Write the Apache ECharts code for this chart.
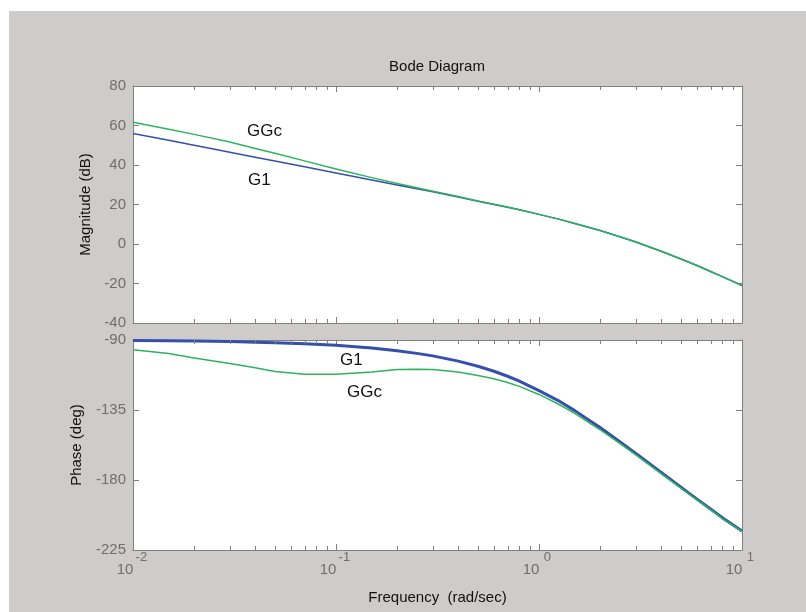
<!DOCTYPE html>
<html><head><meta charset="utf-8">
<script src="https://cdn.jsdelivr.net/npm/echarts@6/dist/echarts.min.js"></script>
<style>
html,body{margin:0;padding:0;background:#ffffff;}
#bg{position:absolute;left:9px;top:11px;width:797px;height:601px;background:#cdcccb;}
#chart{position:absolute;left:0;top:0;width:806px;height:612px;}
</style></head><body>
<div id="bg"></div><div id="chart"></div>
<script>
// ---- data ----
const frequency = [0.01, 0.015, 0.02, 0.03, 0.04, 0.05, 0.07, 0.1, 0.15, 0.2, 0.25, 0.3, 0.4, 0.5, 0.6, 0.7, 0.8, 1, 1.25, 1.5, 2, 2.5, 3, 4, 5, 6, 7, 8, 10];
const magG1  = [56.0, 52.5, 50.0, 46.4, 43.9, 42.0, 39.1, 36.0, 32.4, 29.9, 28.0, 26.4, 23.8, 21.7, 20.0, 18.6, 17.3, 15.0, 12.6, 10.4, 6.8, 3.7, 1.0, -3.7, -7.6, -10.9, -13.9, -16.5, -21.0];
const magGGc = [61.6, 58.1, 55.5, 51.6, 48.4, 46.0, 42.1, 38.0, 33.6, 30.6, 28.5, 26.7, 24.0, 21.8, 20.1, 18.7, 17.3, 15.0, 12.6, 10.4, 6.8, 3.7, 1.0, -3.7, -7.6, -10.9, -13.9, -16.5, -21.0];
const phaseG1  = [-90.3, -90.5, -90.7, -91.0, -91.4, -91.7, -92.4, -93.4, -95.1, -96.9, -98.6, -100.2, -103.6, -106.9, -110.1, -113.3, -116.4, -122.5, -129.1, -135.4, -146.3, -155.4, -163.0, -175.2, -184.6, -192.3, -198.6, -204.2, -212.8];
const phaseGGc = [-96.3, -98.7, -101.5, -105.1, -107.9, -110.3, -112.0, -112.0, -110.5, -109.0, -108.8, -108.9, -110.6, -112.8, -114.9, -117.3, -119.8, -125.0, -131.3, -137.2, -147.7, -156.5, -163.9, -175.9, -185.2, -192.8, -199.0, -204.8, -213.0];
const minorTickFreqs = [0.02,0.03,0.04,0.05,0.06,0.07,0.08,0.09, 0.2,0.3,0.4,0.5,0.6,0.7,0.8,0.9, 2,3,4,5,6,7,8,9];
const magRange = [-40, 80];
const phaseRange = [-225, -90];
const freqRange = [0.01, 10];

const FONT = '"Liberation Sans", Arial, sans-serif';
const axisGray = '#7f7f7f';
const labelGray = '#6e6e6e';
const blue = '#3550aa';
const green = '#2eb35c';

const pair = (xs, ys) => xs.map((x, i) => [x, ys[i]]);

function xAxis(gridIndex, position, showLabels) {
  return {
    type: 'log', logBase: 10, gridIndex, position, min: freqRange[0], max: freqRange[1],
    axisLine: { show: true, onZero: false, lineStyle: { color: axisGray, width: 1 } },
    axisTick: { show: true, inside: true, length: 6, lineStyle: { color: axisGray } },
    axisLabel: showLabels ? {
      margin: 1,
      formatter: v => '{b|10}{e|' + Math.round(Math.log10(v)) + '}',
      rich: {
        b: { fontSize: 15, fontFamily: FONT, color: labelGray, verticalAlign: 'bottom', lineHeight: 26 },
        e: { fontSize: 13, fontFamily: FONT, color: labelGray, width: 16, align: 'left', verticalAlign: 'top', lineHeight: 13 }
      }
    } : { show: false },
    splitLine: { show: false }, minorTick: { show: false }, minorSplitLine: { show: false }
  };
}
function yAxis(gridIndex, position, range, interval, showLabels, name, nameGap) {
  return {
    type: 'value', gridIndex, position, min: range[0], max: range[1], interval,
    axisLine: { show: true, onZero: false, lineStyle: { color: axisGray, width: 1 } },
    axisTick: { show: true, inside: true, length: 6, lineStyle: { color: axisGray } },
    axisLabel: showLabels ? { margin: 7, fontSize: 15, fontFamily: FONT, color: labelGray } : { show: false },
    splitLine: { show: false },
    name: name || '', nameLocation: 'middle', nameGap: nameGap || 0,
    nameTextStyle: { fontSize: 15, fontFamily: FONT, color: '#111' }
  };
}
function minorTicks(xi, yi, range) {
  return {
    type: 'custom', xAxisIndex: xi, yAxisIndex: yi, silent: true, clip: false, z: 5,
    data: minorTickFreqs.map(f => [f, range[0], range[1]]),
    encode: { x: 0, y: 1 },
    renderItem: (params, api) => {
      const b = api.coord([api.value(0), api.value(1)]);
      const t = api.coord([api.value(0), api.value(2)]);
      const x = Math.round(b[0]) + 0.5;
      return { type: 'group', children: [
        { type: 'line', shape: { x1: x, y1: b[1], x2: x, y2: b[1] - 4 }, style: { stroke: axisGray, lineWidth: 1 } },
        { type: 'line', shape: { x1: x, y1: t[1], x2: x, y2: t[1] + 4 }, style: { stroke: axisGray, lineWidth: 1 } }
      ] };
    }
  };
}
const txt = (text, x, y, size, align) => ({
  type: 'text', x, y, z: 100,
  style: { text, fontSize: size, fontFamily: FONT, fill: '#111', align: align || 'left', verticalAlign: 'middle' }
});
const lineSeries = (name, xi, yi, ys, color, width) => ({
  type: 'line', name, xAxisIndex: xi, yAxisIndex: yi, data: pair(frequency, ys),
  showSymbol: false, smooth: false, lineStyle: { color, width, join: 'round' }
});

const chart = echarts.init(document.getElementById('chart'), null, { renderer: 'canvas' });
chart.setOption({
  backgroundColor: 'transparent',
  animation: false,
  grid: [
    { left: 133, top: 86, width: 609, height: 237, show: true, backgroundColor: '#ffffff', borderWidth: 0 },
    { left: 133, top: 340, width: 609, height: 210, show: true, backgroundColor: '#ffffff', borderWidth: 0 }
  ],
  xAxis: [
    xAxis(0, 'bottom', false),
    xAxis(0, 'top', false),
    Object.assign(xAxis(1, 'bottom', true), {
      name: 'Frequency  (rad/sec)', nameLocation: 'middle', nameGap: 40,
      nameTextStyle: { fontSize: 15, fontFamily: FONT, color: '#111' }
    }),
    xAxis(1, 'top', false)
  ],
  yAxis: [
    yAxis(0, 'left', magRange, 20, true, 'Magnitude (dB)', 40),
    yAxis(0, 'right', magRange, 20, false),
    yAxis(1, 'left', phaseRange, 45, true, 'Phase (deg)', 49),
    yAxis(1, 'right', phaseRange, 45, false)
  ],
  graphic: [
    txt('Bode Diagram', 437, 67, 15, 'center'),
    txt('GGc', 247, 131, 17),
    txt('G1', 248, 180, 17),
    txt('G1', 340, 360, 17),
    txt('GGc', 347, 392, 17)
  ],
  series: [
    lineSeries('G1', 0, 0, magG1, blue, 1.5),
    lineSeries('GGc', 0, 0, magGGc, green, 1.5),
    lineSeries('G1', 2, 2, phaseG1, blue, 3),
    lineSeries('GGc', 2, 2, phaseGGc, green, 1.5),
    minorTicks(0, 0, magRange),
    minorTicks(2, 2, phaseRange)
  ]
});
</script>
</body></html>
